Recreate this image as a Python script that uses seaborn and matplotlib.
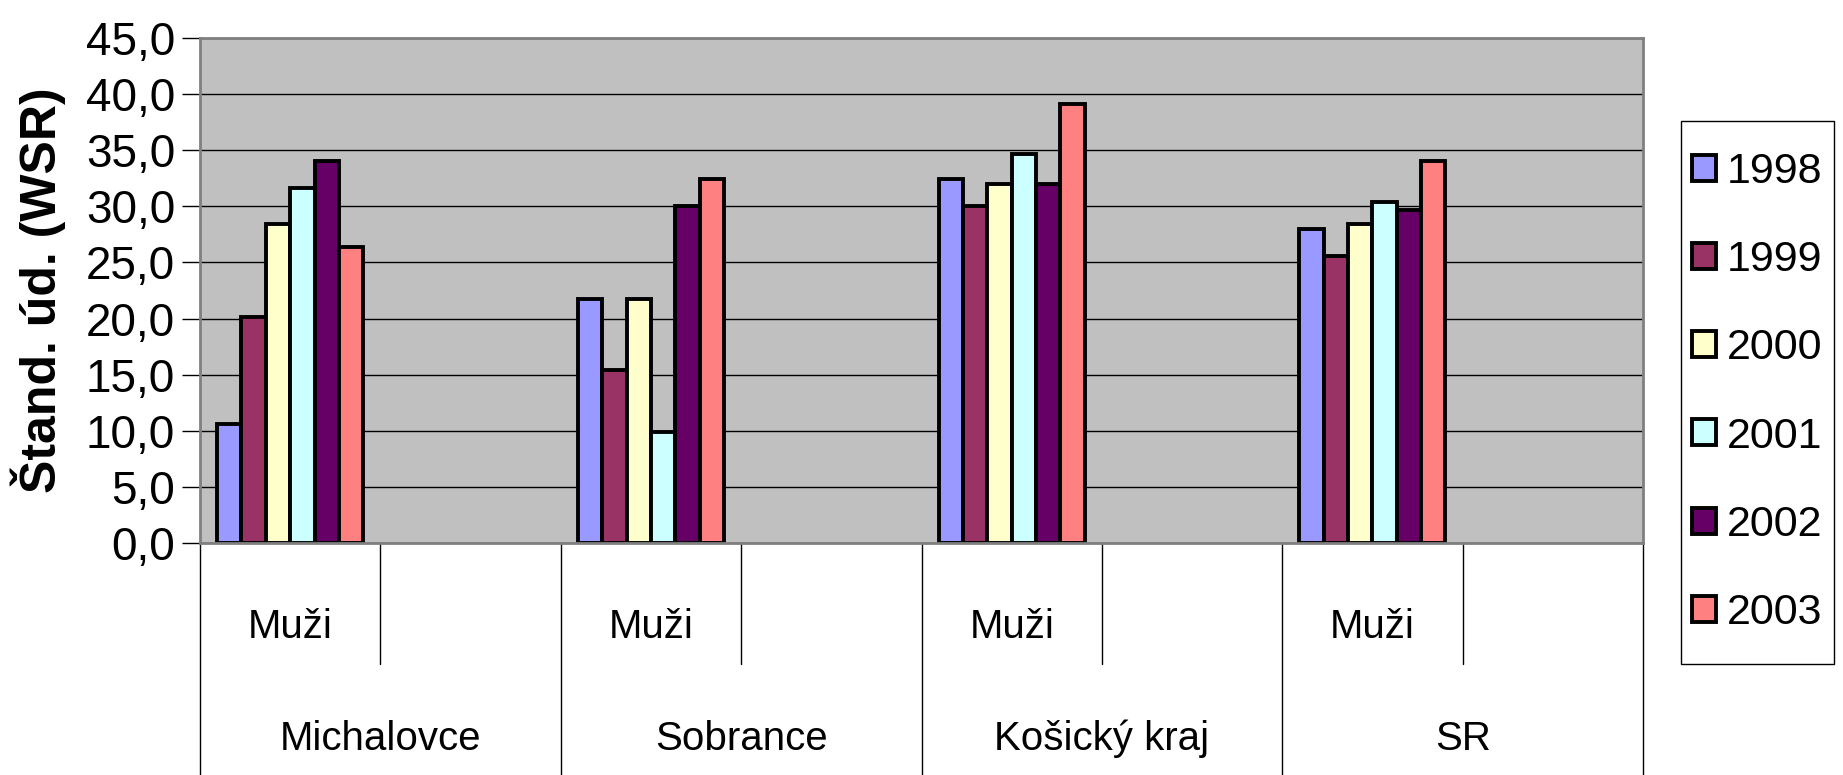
import matplotlib
matplotlib.use("Agg")
import matplotlib.pyplot as plt
import matplotlib.ticker as mticker
from matplotlib.transforms import blended_transform_factory
from matplotlib.patches import Rectangle
import seaborn as sns
import pandas as pd

regions = ["Michalovce", "Sobrance", "Košický kraj", "SR"]
sexes = ["Muži", ""]
years = ["1998", "1999", "2000", "2001", "2002", "2003"]
colors = ["#9999FF", "#993366", "#FFFFCC", "#CCFFFF", "#660066", "#FF8080"]

v_michalovce = [10.6, 20.1, 28.4, 31.6, 34.0, 26.4]
v_sobrance = [21.7, 15.4, 21.7, 9.9, 30.0, 32.4]
v_kosicky = [32.4, 30.0, 32.0, 34.7, 32.0, 39.1]
v_sr = [28.0, 25.6, 28.4, 30.4, 29.7, 34.0]
values = [v_michalovce, v_sobrance, v_kosicky, v_sr]

rows = []
for r, vals in zip(regions, values):
    for y, v in zip(years, vals):
        rows.append({"cat": r + "|Muži", "year": y, "val": v})
df = pd.DataFrame(rows)
order = [r + "|" + s for r in regions for s in sexes]

sns.set_theme(style="white")
plt.rcParams["font.family"] = ["Liberation Sans", "DejaVu Sans"]

W, H = 1843, 775
fig = plt.figure(figsize=(W/100, H/100), dpi=100)
ax_left, ax_right, ax_top, ax_bot = 200, 1643, 38, 543
ax = fig.add_axes([ax_left/W, 1-ax_bot/H, (ax_right-ax_left)/W, (ax_bot-ax_top)/H])
ax.set_facecolor("#C0C0C0")

sns.barplot(data=df, x="cat", y="val", hue="year", order=order, hue_order=years,
            palette=colors, width=0.81, edgecolor="black", linewidth=2.8,
            saturation=1, ax=ax, legend=True)

ax.set_ylim(0, 45)
ax.set_xlim(-0.5, len(order) - 0.5)
ax.yaxis.set_major_locator(mticker.MultipleLocator(5))
ax.yaxis.set_major_formatter(mticker.FuncFormatter(lambda v, p: f"{v:.1f}".replace(".", ",")))
ax.grid(axis="y", color="black", linewidth=1.0)
ax.set_axisbelow(True)
for s in ["left", "bottom", "top", "right"]:
    ax.spines[s].set_color("#808080")
    ax.spines[s].set_linewidth(2)
ax.tick_params(axis="y", which="major", left=True, length=13, width=1.0, color="black",
               labelsize=33, pad=5, labelcolor="black")
ax.set_xticks([])
ax.set_xlabel("")
ax.set_ylabel("Štand. úd. (WSR)", fontsize=36, fontweight="bold", labelpad=14, color="black")

# multi-level category axis
tr = blended_transform_factory(ax.transData, ax.transAxes)
h_ax = ax_bot - ax_top
def yax(px_below):
    return -px_below / h_ax
for i in range(len(order) + 1):
    xb = i - 0.5
    if i % 2 == 0:
        ax.plot([xb, xb], [0, yax(240)], transform=tr, color="black", lw=1.0, clip_on=False)
    else:
        ax.plot([xb, xb], [0, yax(121)], transform=tr, color="black", lw=1.0, clip_on=False)
for i, c in enumerate(order):
    r, s = c.split("|")
    if s:
        ax.text(i, yax(84), s, transform=tr, ha="center", va="center", fontsize=29,
                color="black")
for j, r in enumerate(regions):
    ax.text(2*j + 0.5, yax(196), r, transform=tr, ha="center", va="center", fontsize=29,
            color="black")

# legend frame drawn as a box, legend entries centred within it
lx0, lx1, ly0, ly1 = 1681, 1834, 121, 664
fig.patches.append(Rectangle((lx0/W, 1-ly1/H), (lx1-lx0)/W, (ly1-ly0)/H,
                             transform=fig.transFigure, facecolor="none",
                             edgecolor="black", linewidth=1.0, zorder=0))
leg = ax.legend(loc="center",
                bbox_to_anchor=(lx0/W, 1-ly1/H, (lx1-lx0)/W, (ly1-ly0)/H),
                bbox_transform=fig.transFigure, frameon=False, fontsize=31,
                handlelength=0.55, handleheight=0.55, handletextpad=0.25, labelspacing=1.12,
                borderpad=0.0, borderaxespad=0)
for t in leg.get_texts():
    t.set_color("black")

fig.savefig("out.png", dpi=100)
